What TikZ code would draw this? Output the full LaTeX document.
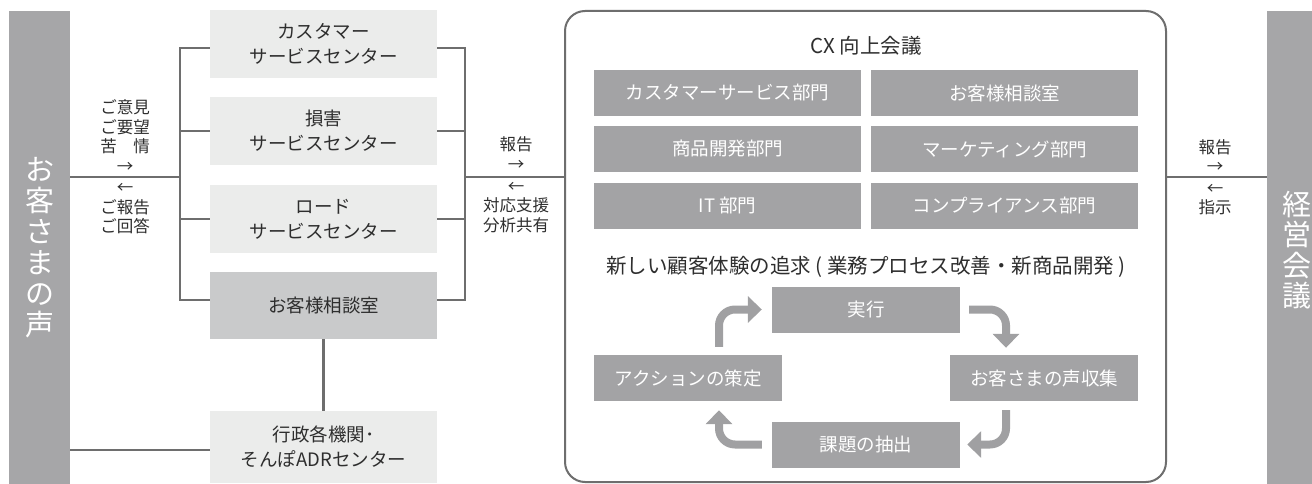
\documentclass[tikz,border=0pt]{standalone}
\usepackage{fontspec}
\setmainfont{Noto Sans CJK JP}
\usetikzlibrary{arrows.meta}
\definecolor{bargrey}{HTML}{A6A6A8}
\definecolor{darkbox}{HTML}{A3A3A5}
\definecolor{lightbox}{HTML}{EBECEB}
\definecolor{midbox}{HTML}{C9CACB}
\definecolor{linegrey}{HTML}{6E6E6E}
\definecolor{txt}{HTML}{2E2E2E}
\definecolor{cycgrey}{HTML}{A0A0A2}
\tikzset{
  lbox/.style={fill=lightbox, minimum width=227pt, minimum height=68pt, inner sep=0pt, align=center, text=txt, font=\fontsize{18.5}{25}\selectfont},
  gbox/.style={fill=darkbox, minimum width=267pt, minimum height=46pt, inner sep=0pt, text=white, font=\fontsize{18.5}{22}\selectfont},
  cbox/.style={fill=darkbox, minimum width=188pt, minimum height=46pt, inner sep=0pt, text=white, font=\fontsize{18.5}{22}\selectfont},
  conn/.style={draw=linegrey, line width=2.5pt},
  lbl/.style={align=center, text=txt, inner sep=0pt, font=\fontsize{16.5}{19.5}\selectfont},
  cyc/.style={draw=cycgrey, line width=8pt, rounded corners=16pt, -{Triangle[length=14pt,width=26pt]}},
  vbar/.style={fill=bargrey, inner sep=0pt, align=center, text=white, font=\fontsize{29}{31}\selectfont}
}
\begin{document}
\begin{tikzpicture}[x=1pt,y=-1pt]
\useasboundingbox[fill=white] (0,0) rectangle (1312,484);
% side bars
\node[vbar, minimum width=61pt, minimum height=473pt] (voice) at (39.5,247.5) {お\\客\\さ\\ま\\の\\声};
\node[fill=bargrey, minimum width=60pt, minimum height=473pt, inner sep=0pt] (mgmt) at (1297,247.5) {};
\node[vbar, font=\fontsize{29}{30.5}\selectfont] (mgmttxt) at (1297,250) {経\\営\\会\\議};
% left column boxes
\node[lbox] (b1) at (323.5,44) {カスタマー\\サービスセンター};
\node[lbox] (b2) at (323.5,131) {損害\\サービスセンター};
\node[lbox] (b3) at (323.5,219) {ロード\\サービスセンター};
\node[lbox, fill=midbox, minimum height=67pt] (b4) at (323.5,305.5) {お客様相談室};
\node[lbox, minimum height=72pt] (b5) at (323.5,447) {行政各機関･\\そんぽADRセンター};
% brackets
\coordinate (jl) at (180,177);
\coordinate (jr) at (465,177);
\draw[conn] ([yshift=-4pt]b1.west) -| (jl) |- ([yshift=5.5pt]b4.west);
\draw[conn] (b2.west) -- (b2.west -| jl);
\draw[conn] (b3.west) -- (b3.west -| jl);
\draw[conn] (voice.east |- jl) -- (jl);
\draw[conn] ([yshift=-4pt]b1.east) -| (jr) |- ([yshift=5.5pt]b4.east);
\draw[conn] (b2.east) -- (b2.east -| jr);
\draw[conn] (b3.east) -- (b3.east -| jr);
\draw[conn] (b4.south) -- (b5.north);
\draw[conn] ([yshift=-3pt]b5.west) -- ([yshift=-3pt]b5.west -| voice.east);
% CX frame
\node[draw=linegrey, line width=2pt, rounded corners=20pt, minimum width=601pt, minimum height=471pt, inner sep=0pt] (cx) at (865.5,246.5) {};
\draw[conn] (jr) -- (jr -| cx.west);
\coordinate (jm) at (1166,177);
\draw[conn] (jm -| cx.east) -- (jm -| mgmt.west);
% labels
\node[lbl] (l1) at (125,136) {ご意見\\ご要望\\苦　情\\→};
\node[lbl] (l2) at (125,209) {←\\ご報告\\ご回答};
\node[lbl] (m1) at (516,153.5) {報告\\→};
\node[lbl] (m2) at (516,207.5) {←\\対応支援\\分析共有};
\node[lbl] (r1) at (1215,156) {報告\\→};
\node[lbl] (r2) at (1215,199.5) {←\\指示};
% CX content
\node[text=txt, font=\fontsize{20.5}{24}\selectfont] (cxt) at (866,46) {CX 向上会議};
\node[gbox] (g1) at (727.5,93) {カスタマーサービス部門};
\node[gbox] (g2) at (1004.5,93) {お客様相談室};
\node[gbox] (g3) at (727.5,149) {商品開発部門};
\node[gbox] (g4) at (1004.5,149) {マーケティング部門};
\node[gbox] (g5) at (727.5,206) {IT 部門};
\node[gbox] (g6) at (1004.5,206) {コンプライアンス部門};
\node[text=txt, font=\fontsize{20.5}{24}\selectfont] (sub) at (866,267) {新しい顧客体験の追求 ( 業務プロセス改善・新商品開発 )};
\node[cbox] (act) at (688,378) {アクションの策定};
\node[cbox] (exe) at (866,309.5) {実行};
\node[cbox] (voc) at (1044,378) {お客さまの声収集};
\node[cbox] (iss) at (866,444.5) {課題の抽出};
\draw[cyc] ([xshift=31pt,yshift=8pt]act.north) |- ([xshift=-10pt]exe.west);
\draw[cyc] ([xshift=9pt]exe.east) -| ([xshift=-38pt,yshift=7pt]voc.north);
\draw[cyc] ([xshift=-38pt,yshift=-9pt]voc.south) |- ([xshift=7pt]iss.east);
\draw[cyc] ([xshift=-10pt]iss.west) -| ([xshift=31pt,yshift=-9pt]act.south);
\end{tikzpicture}
\end{document}
